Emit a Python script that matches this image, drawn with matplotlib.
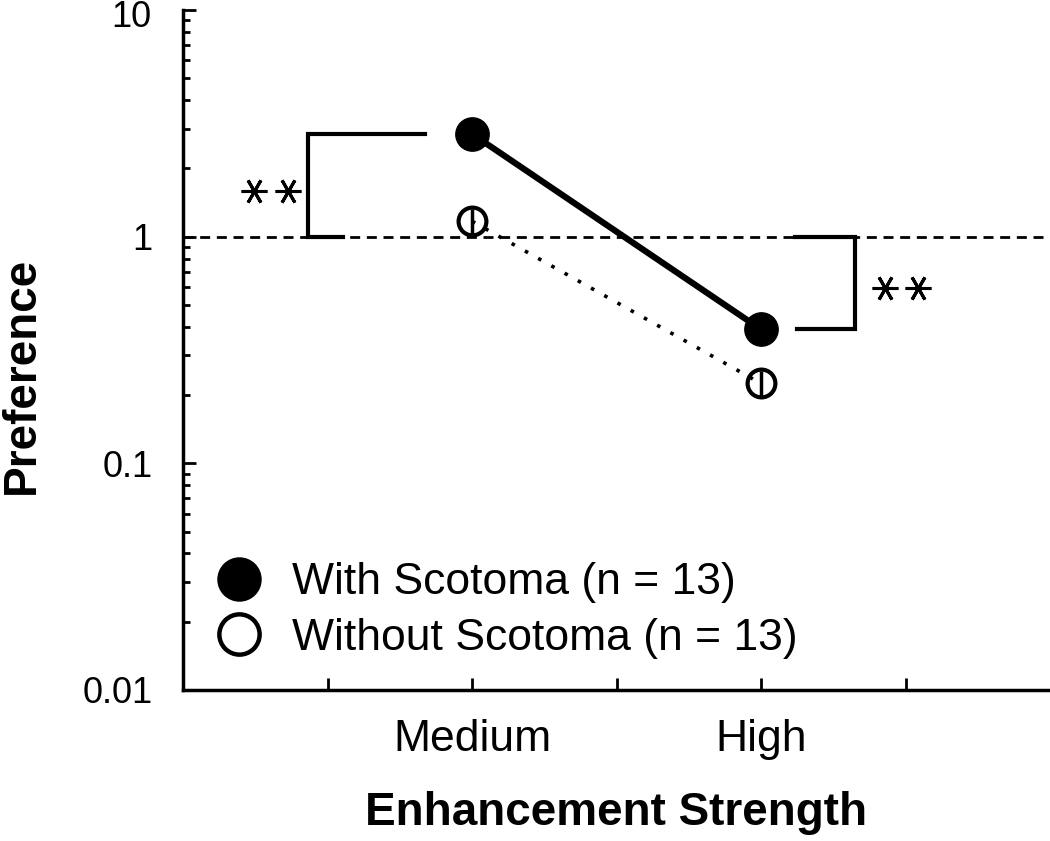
import matplotlib.pyplot as plt
import numpy as np
from matplotlib.ticker import FixedLocator, FixedFormatter, LogLocator, NullFormatter

plt.rcParams['font.family'] = ['Liberation Sans', 'DejaVu Sans']

# data
categories = ['Medium', 'High']
x_pos = [1, 3]
with_scotoma = [2.84, 0.39]
without_scotoma = [1.17, 0.225]
without_err_lo = [0.14, 0.027]
without_err_hi = [0.16, 0.031]
y_ticks = [0.01, 0.1, 1, 10]
y_ticklabels = ['0.01', '0.1', '1', '10']

fig = plt.figure(figsize=(10.5, 8.41), dpi=100)
ax = fig.add_axes([0.1743, 0.1796, 0.8257, 0.8085])

ax.axhline(1, color='black', linestyle=(0, (3.6, 2.4)), linewidth=2, zorder=1)

# without scotoma (dotted line, open circles with error bars)
ax.plot(x_pos, without_scotoma, linestyle=(0, (1, 3.2)), color='black', linewidth=2.6, zorder=2)
ax.errorbar(x_pos, without_scotoma, yerr=[without_err_lo, without_err_hi], fmt='none',
            ecolor='black', elinewidth=2.5, capsize=0, zorder=4)
ax.plot(x_pos, without_scotoma, linestyle='none', marker='o', markersize=20,
        markerfacecolor='none', markeredgecolor='black', markeredgewidth=3, zorder=5)

# with scotoma
ax.plot(x_pos, with_scotoma, color='black', linewidth=4.5, marker='o', markersize=24,
        markerfacecolor='black', markeredgecolor='black', zorder=3)

# significance brackets and asterisks
ax.plot([0.675, -0.135, -0.135, 0.107], [with_scotoma[0], with_scotoma[0], 1, 1],
        color='black', linewidth=3, solid_joinstyle='miter', zorder=3)
ax.plot([3.235, 3.65, 3.65, 3.25], [1, 1, with_scotoma[1], with_scotoma[1]],
        color='black', linewidth=3, solid_joinstyle='miter', zorder=3)
ax.plot([-0.509, -0.273], [1.594, 1.594], linestyle='none', marker=(6, 2, 90),
        markersize=18.5, markeredgewidth=2.2, color='black')
ax.plot([3.858, 4.087], [0.596, 0.596], linestyle='none', marker=(6, 2, 90),
        markersize=18.5, markeredgewidth=2.2, color='black')

# legend
h1, = ax.plot([], [], linestyle='none', marker='o', markersize=31, markerfacecolor='black',
              markeredgecolor='black')
h2, = ax.plot([], [], linestyle='none', marker='o', markersize=29, markerfacecolor='white',
              markeredgecolor='black', markeredgewidth=3.2)
ax.legend([h1, h2], ['With Scotoma (n = 13)', 'Without Scotoma (n = 13)'],
          loc='lower left', bbox_to_anchor=(-0.01, 0.0), frameon=False, fontsize=32,
          handlelength=1.5, handletextpad=0.45, labelspacing=0.33, borderaxespad=0.3)

ax.set_yscale('log')
ax.set_ylim(0.01, 10)
ax.set_xlim(-1, 5)

ax.xaxis.set_major_locator(FixedLocator([0, 1, 2, 3, 4]))
ax.xaxis.set_major_formatter(FixedFormatter(['', categories[0], '', categories[1], '']))
ax.yaxis.set_major_locator(FixedLocator(y_ticks))
ax.yaxis.set_major_formatter(FixedFormatter(y_ticklabels[:-1] + ['']))
ax.yaxis.set_minor_locator(LogLocator(base=10, subs=np.arange(2, 10)))
ax.yaxis.set_minor_formatter(NullFormatter())

ax.tick_params(axis='both', which='major', direction='in', length=9, width=2, pad=22)
ax.tick_params(axis='y', which='major', labelsize=26)
ax.tick_params(axis='y', which='minor', direction='in', length=5, width=2)
ax.tick_params(axis='x', which='major', labelsize=32, pad=21)

# top label "10" pushed down so it stays inside the figure
ax.annotate(y_ticklabels[-1], xy=(0, y_ticks[-1]), xycoords=('axes fraction', 'data'),
            xytext=(-23, 7), textcoords='offset points', ha='right', va='top', fontsize=26)

for s in ['top', 'right']:
    ax.spines[s].set_visible(False)
for s in ['left', 'bottom']:
    ax.spines[s].set_linewidth(2.5)

ax.set_xlabel('Enhancement Strength', fontsize=33, fontweight='bold', labelpad=22)
ax.set_ylabel('Preference', fontsize=33, fontweight='bold')
ax.yaxis.set_label_coords(-0.160, 0.462)

fig.savefig('out.png', dpi=100)
